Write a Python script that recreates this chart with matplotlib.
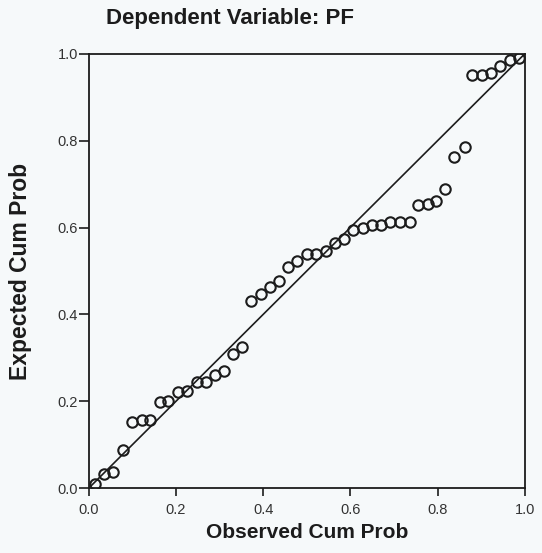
import matplotlib
matplotlib.use("Agg")
import matplotlib.pyplot as plt

observed = [0.014, 0.035, 0.056, 0.079, 0.100, 0.121, 0.140, 0.163, 0.182, 0.205,
            0.226, 0.247, 0.268, 0.289, 0.310, 0.331, 0.352, 0.373, 0.394, 0.415,
            0.436, 0.457, 0.478, 0.501, 0.522, 0.543, 0.564, 0.585, 0.606, 0.629,
            0.650, 0.671, 0.692, 0.713, 0.737, 0.755, 0.779, 0.797, 0.818, 0.839,
            0.862, 0.879, 0.902, 0.923, 0.944, 0.967, 0.988]
expected = [0.009, 0.032, 0.037, 0.088, 0.152, 0.157, 0.157, 0.199, 0.201, 0.222,
            0.224, 0.245, 0.245, 0.261, 0.270, 0.309, 0.326, 0.430, 0.446, 0.464,
            0.476, 0.510, 0.522, 0.538, 0.540, 0.547, 0.564, 0.573, 0.594, 0.598,
            0.605, 0.607, 0.612, 0.612, 0.612, 0.651, 0.654, 0.661, 0.688, 0.762,
            0.785, 0.952, 0.952, 0.956, 0.972, 0.986, 0.991]
ticks = [0.0, 0.2, 0.4, 0.6, 0.8, 1.0]
tick_labels = ["0.0", "0.2", "0.4", "0.6", "0.8", "1.0"]

plt.rcParams['font.family'] = ['Liberation Sans', 'DejaVu Sans']
bg = '#f6f9fa'
ink = '#1c1c1c'

fig = plt.figure(figsize=(5.42, 5.53), dpi=100, facecolor=bg)
ax = fig.add_axes([0.164, 0.1175, 0.804, 0.785])
ax.set_facecolor(bg)

ax.plot([0, 1], [0, 1], color=ink, lw=1.2, zorder=2)
ax.plot(observed, expected, linestyle='none', marker='o', markersize=7.5,
        markerfacecolor='none', markeredgecolor=ink, markeredgewidth=1.5, zorder=3)

ax.set_xlim(0, 1)
ax.set_ylim(0, 1)
ax.set_xticks(ticks)
ax.set_xticklabels(tick_labels)
ax.set_yticks(ticks)
ax.set_yticklabels(tick_labels)
ax.tick_params(axis='x', direction='out', length=6, width=1.2, colors=ink,
               labelsize=10.5, pad=5, labelcolor='#333333')
ax.tick_params(axis='y', direction='out', length=7, width=1.2, colors=ink,
               labelsize=10.5, pad=1, labelcolor='#333333')
for s in ax.spines.values():
    s.set_color(ink)
    s.set_linewidth(1.3)

ax.set_xlabel('Observed Cum Prob', fontsize=15, fontweight='bold', color=ink, labelpad=4)
ax.set_ylabel('Expected Cum Prob', fontsize=16.5, fontweight='bold', color=ink, labelpad=18)
fig.text(0.425, 0.967, 'Dependent Variable: PF', fontsize=16, fontweight='bold',
         color=ink, ha='center', va='center')

fig.savefig('out.png', dpi=100, facecolor=bg)
